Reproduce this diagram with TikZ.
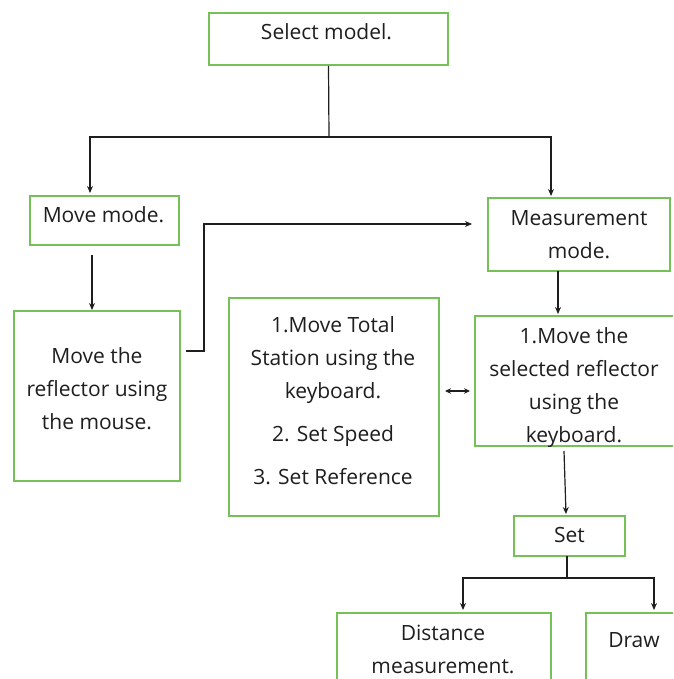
\documentclass[tikz,border=0pt]{standalone}
\usepackage{fontspec}
\setmainfont{Open Sans}
\usetikzlibrary{arrows.meta}
\definecolor{boxgreen}{RGB}{118,192,88}
\definecolor{inkc}{RGB}{30,30,30}
\begin{document}
\begin{tikzpicture}[x=1pt,y=-1pt,
  box/.style={draw=boxgreen, line width=1.6pt, inner sep=0pt},
  txt/.style={font=\fontsize{21}{33}\selectfont, align=center, inner sep=0pt, text=inkc},
  arr/.style={-{Stealth[length=7pt,width=6pt]}, line width=1.2pt, draw=inkc},
  darr/.style={{Stealth[length=6pt,width=5.5pt]}-{Stealth[length=6pt,width=5.5pt]}, line width=1.2pt, draw=inkc},
  ln/.style={line width=1.2pt, draw=inkc}]
\useasboundingbox (0,0) rectangle (673,679);
\clip (0,0) rectangle (673,679);
\fill[white] (0,0) rectangle (673,679);

% boxes
\node[box, minimum width=239pt, minimum height=52pt] (sel) at (328.5,39) {};
\node[box, minimum width=149pt, minimum height=49pt] (move) at (104.5,220.5) {};
\node[box, minimum width=182pt, minimum height=73pt] (meas) at (579,234.5) {};
\node[box, minimum width=166pt, minimum height=170pt] (refl) at (97,396) {};
\node[box, minimum width=210pt, minimum height=218pt] (list) at (334,407) {};
\node[box, minimum width=215pt, minimum height=130pt] (selr) at (582.5,381) {};
\node[box, minimum width=111pt, minimum height=40pt] (setb) at (569.5,536) {};
\node[box, minimum width=214pt, minimum height=87pt] (dist) at (444,656.5) {};
\node[box, minimum width=114pt, minimum height=87pt] (drawb) at (643,656.5) {};

% texts
\node[txt] (tsel) at (326.5,32) {Select model.};
\node[txt] (tmove) at (103.5,215) {Move mode.};
\node[txt] (tmeas) at (579,234.5) {Measurement\\mode.};
\node[txt] (trefl) at (97,389) {Move the\\reflector using\\the mouse.};
\node[txt] (tlist) at (333,400.5) {1.Move Total\\Station using the\\keyboard.\\[10pt]2. Set Speed\\[10pt]3. Set Reference};
\begin{scope}
\clip (selr.north west) rectangle (selr.south east);
\node[txt] (tselr) at (574,388) {1.Move the\\selected reflector\\using the\\keyboard.};
\end{scope}
\node[txt] (tset) at (569.5,535) {Set};
\node[txt] (tdist) at (443,649.5) {Distance\\measurement.};
\node[txt] (tdraw) at (634,640) {Draw};

% connectors
\coordinate (j1) at (329,137);
\coordinate (jl) at (90,137);
\coordinate (jr) at (551,137);
\coordinate (ml) at (90,193);
\coordinate (mr) at (551,196);
\draw[ln] (sel.south) -- (j1);
\draw[arr] (j1) -- (jl) -- (ml);
\draw[arr] (j1) -- (jr) -- (mr);

\coordinate (mv1) at (92,255);
\coordinate (mv2) at (92,310);
\draw[arr] (mv1) -- (mv2);

\coordinate (r1) at (186,351);
\coordinate (r2) at (204,351);
\coordinate (r3) at (204,224);
\coordinate (r4) at (472,224);
\draw[arr] (r1) -- (r2) -- (r3) -- (r4);

\coordinate (ms1) at (558,271);
\coordinate (ms2) at (558,314);
\draw[arr] (ms1) -- (ms2);

\coordinate (d1) at (445,391);
\coordinate (d2) at (470,391);
\draw[darr] (d1) -- (d2);

\coordinate (s1) at (564,451);
\coordinate (s2) at (566,514);
\draw[arr] (s1) -- (s2);

\coordinate (t1) at (567,556);
\coordinate (t2) at (567,578);
\coordinate (tl) at (463,578);
\coordinate (tr) at (654,578);
\coordinate (bl) at (463,610);
\coordinate (br) at (654,610);
\draw[ln] (t1) -- (t2);
\draw[arr] (t2) -- (tl) -- (bl);
\draw[arr] (t2) -- (tr) -- (br);
\end{tikzpicture}
\end{document}
